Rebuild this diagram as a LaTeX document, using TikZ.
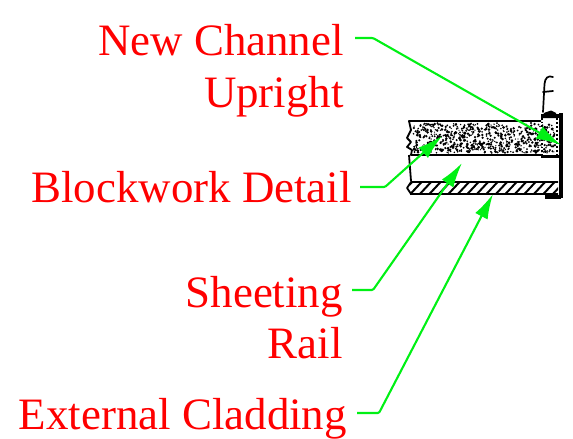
\documentclass[tikz,border=0pt]{standalone}
\usepackage{fontspec}
\setmainfont{Liberation Serif}
\usetikzlibrary{arrows.meta}
\definecolor{leadgreen}{RGB}{0,240,20}
\tikzset{
  lbl/.style={text=red,font=\fontsize{44.9}{44.9}\selectfont,inner sep=0pt,anchor=base east},
  leader/.style={draw=leadgreen,line width=2.1pt,rounded corners=1.2pt,-{Latex[length=25pt,width=14pt]}},
  ink/.style={draw=black,line width=1.8pt,line join=round},
  heavy/.style={draw=black,line width=3.2pt},
}
\begin{document}
\begin{tikzpicture}[x=1pt,y=-1pt]
\useasboundingbox (0,0) rectangle (573,439);
% speckled blockwork
\pgfmathsetseed{4127}
\foreach \i in {1,...,720}{
  \pgfmathsetmacro{\px}{413+rnd*142}
  \pgfmathsetmacro{\py}{123+30*rnd^0.8}
  \pgfmathsetmacro{\pr}{0.6+rnd*0.85}
  \fill[black] (\px,\py) circle[radius=\pr pt];
}
% cladding hatching
\begin{scope}
  \clip (410,182) rectangle (558,194);
  \foreach \h in {400,409.5,...,566}{
    \draw[black,line width=2pt] (\h,195) -- (\h+13,181);
  }
\end{scope}
% outline of the section
\draw[ink] (541,121) -- (409,121) -- (411,130) -- (407,138) -- (411,142) -- (407,147) -- (412,150) -- (411,155) -- (541,155);
\draw[ink] (409,155) -- (411,181);
\draw[ink] (558,182) -- (411,182) -- (407,188) -- (411,194) -- (558,194);
% channel upright
\draw[heavy] (561,113) -- (561,198);
\draw[heavy] (541,116) -- (561,116);
\draw[heavy] (541,156.5) -- (561,156.5);
\draw[heavy] (545,197) -- (561,197);
\draw[black,line width=2pt,dotted] (556.5,118) -- (556.5,155);
\draw[black,line width=1.6pt,dotted] (542,118) -- (542,155);
\fill[black] (541,116) -- (545,112.5) -- (551,110.5) -- (556,113) -- (556,118) -- (541,118) -- cycle;
\draw[black,line width=1.7pt,line cap=round] (553,77) .. controls (548,75) and (545,78) .. (544.5,84) -- (543,112);
\draw[black,line width=1.7pt,line cap=round] (543,92) -- (553,91);
% labels
\node[lbl] (newchannel) at (344,55) {New Channel};
\node[lbl] (upright) at (344,107) {Upright};
\node[lbl] (blockwork) at (352,202) {Blockwork Detail};
\node[lbl] (sheeting) at (343,307) {Sheeting};
\node[lbl] (rail) at (343,358) {Rail};
\node[lbl] (cladding) at (347,429) {External Cladding};
% leader ends
\coordinate (a0) at (355,38);   \coordinate (a1) at (373,38);   \coordinate (a2) at (561,145);
\coordinate (b0) at (360,187);  \coordinate (b1) at (385,187);  \coordinate (b2) at (442,136);
\coordinate (c0) at (352,290);  \coordinate (c1) at (373,290);  \coordinate (c2) at (462,163);
\coordinate (d0) at (357,413);  \coordinate (d1) at (379,413);  \coordinate (d2) at (493,194);
\draw[leader] (a0) -- (a1) -- (a2);
\draw[leader] (b0) -- (b1) -- (b2);
\draw[leader] (c0) -- (c1) -- (c2);
\draw[leader] (d0) -- (d1) -- (d2);
\end{tikzpicture}
\end{document}
